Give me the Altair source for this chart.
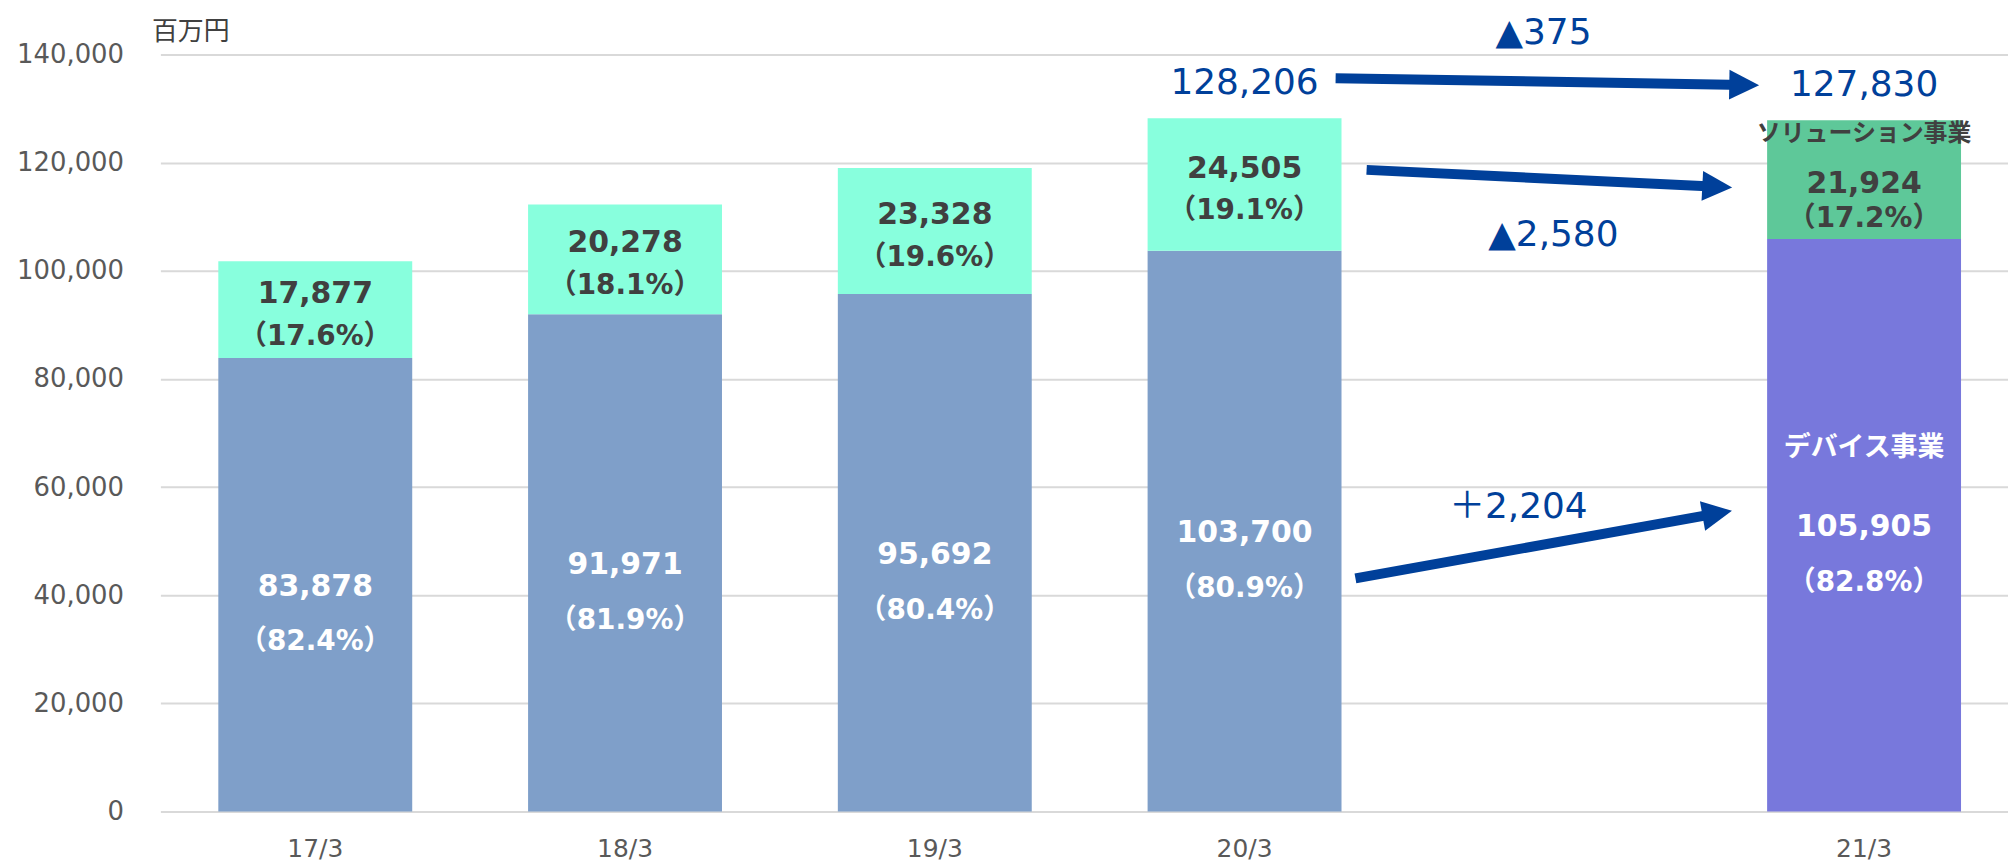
import altair as alt
import pandas as pd

# ---------------- data ----------------
years = ["17/3", "18/3", "19/3", "20/3", "21/3"]
device = [83878, 91971, 95692, 103700, 105905]
solution = [17877, 20278, 23328, 24505, 21924]
device_pct = ["82.4%", "81.9%", "80.4%", "80.9%", "82.8%"]
solution_pct = ["17.6%", "18.1%", "19.6%", "19.1%", "17.2%"]
x_domain = ["17/3", "18/3", "19/3", "20/3", " ", "21/3"]
y_ticks = [0, 20000, 40000, 60000, 80000, 100000, 120000, 140000]

total_years = ["20/3", "21/3"]
totals = [128206, 127830]

segment_names = ["ソリューション事業", "デバイス事業"]

delta_labels = ["▲375", "▲2,580", "＋2,204"]
delta_x = [4.465, 4.497, 4.384]          # position in band units
delta_y = [143900, 106700, 56400]

arrow_x1 = [3.794, 3.894, 3.858]
arrow_y1 = [135630, 118670, 43100]
arrow_x2 = [5.113, 5.026, 5.026]
arrow_y2 = [134380, 115560, 55130]
arrow_angle = [1, 3, 350]

# ---------------- styles ----------------
NUM_FONT = "DejaVu Sans, Noto Sans CJK JP"
JP_FONT = "Noto Sans CJK JP"
BLUE = "#00409A"
DARK = "#404040"
GREY = "#595959"
XRANGE = 1866

# ---------------- tables ----------------
bar_rows = []
for i, yr in enumerate(years):
    cur = yr == "21/3"
    bar_rows.append({"year": yr, "y0": 0, "y1": device[i],
                     "key": "dev_cur" if cur else "dev"})
    bar_rows.append({"year": yr, "y0": device[i], "y1": device[i] + solution[i],
                     "key": "sol_cur" if cur else "sol"})
bar_df = pd.DataFrame(bar_rows)

lab_df = pd.DataFrame({
    "year": years,
    "dev_mid": [d / 2 for d in device],
    "sol_mid": [d + s / 2 for d, s in zip(device, solution)],
    "dev_txt": [f"{d:,}" for d in device],
    "sol_txt": [f"{s:,}" for s in solution],
    "dev_pct": [f"（{p}）" for p in device_pct],
    "sol_pct": [f"（{p}）" for p in solution_pct],
    "total": [d + s for d, s in zip(device, solution)],
})

tot_df = pd.DataFrame({"year": total_years, "total": totals,
                       "txt": [f"{t:,}" for t in totals]})

arrow_df = pd.DataFrame({"x1": arrow_x1, "y1": arrow_y1, "x2": arrow_x2,
                         "y2": arrow_y2, "ang": arrow_angle})
delta_df = pd.DataFrame({"x": delta_x, "y": delta_y, "txt": delta_labels})

# ---------------- scales / encodings ----------------
yscale = alt.Scale(domain=[0, 140000], nice=False, zero=True)
xscale = alt.Scale(domain=x_domain, range=[0, XRANGE], paddingInner=0.374, paddingOuter=0.187)

X = alt.X("year:N", scale=xscale, sort=x_domain,
          axis=alt.Axis(title=None, labelAngle=0, domain=False, ticks=False, tickSize=0,
                        grid=False, labelFont=NUM_FONT, labelFontSize=25,
                        labelColor=GREY, labelPadding=25))

bars = alt.Chart(bar_df).mark_bar().encode(
    x=X,
    y=alt.Y("y0:Q", scale=yscale,
            axis=alt.Axis(values=y_ticks, format=",d", grid=True, gridColor="#D9D9D9",
                          gridWidth=2, domain=False, ticks=False, tickSize=0,
                          labelFont=NUM_FONT, labelFontSize=26, labelColor=GREY,
                          labelPadding=37, title="百万円", titleAngle=0,
                          titleAlign="left", titleBaseline="middle", titleX=-9,
                          titleY=-23, titleFont=JP_FONT, titleFontSize=26,
                          titleFontWeight="normal", titleColor=DARK)),
    y2="y1:Q",
    color=alt.Color("key:N", scale=alt.Scale(domain=["dev", "sol", "dev_cur", "sol_cur"],
                                             range=["#7F9FC9", "#88FFDD", "#7878DC", "#5EC899"]),
                    legend=None),
)

def txt(df, field, text, dy, size, color, weight="bold", filt=None, font=NUM_FONT):
    c = alt.Chart(df)
    if filt is not None:
        c = c.transform_filter(filt)
    return c.mark_text(font=font, fontSize=size, fontWeight=weight, color=color,
                       baseline="middle", align="center", dy=dy).encode(
        x=X, y=alt.Y(field, scale=yscale), text=text)

past = "datum.year != '21/3'"
cur = "datum.year == '21/3'"

dev_val = txt(lab_df, "dev_mid:Q", "dev_txt:N", 2, 30, "white")
dev_pct = txt(lab_df, "dev_mid:Q", "dev_pct:N", 58, 28, "white")
sol_val = txt(lab_df, "sol_mid:Q", "sol_txt:N", -16, 30, DARK, filt=past)
sol_pct = txt(lab_df, "sol_mid:Q", "sol_pct:N", 27, 28, DARK, filt=past)
sol_val_c = txt(lab_df, "sol_mid:Q", "sol_txt:N", 4, 30, DARK, filt=cur)
sol_pct_c = txt(lab_df, "sol_mid:Q", "sol_pct:N", 40, 28, DARK, filt=cur)

tot_txt = alt.Chart(tot_df).mark_text(font=NUM_FONT, fontSize=36, color=BLUE,
                                      baseline="middle", dy=-35).encode(
    x=X, y=alt.Y("total:Q", scale=yscale), text="txt:N")

seg_sol = alt.Chart(lab_df).transform_filter(cur).transform_calculate(
    name=f"'{segment_names[0]}'").mark_text(
    font=JP_FONT, fontSize=24, fontWeight="bold", color=DARK, baseline="middle", dy=14).encode(
    x=X, y=alt.Y("total:Q", scale=yscale), text="name:N")
seg_dev = alt.Chart(lab_df).transform_filter(cur).transform_calculate(
    name=f"'{segment_names[1]}'").mark_text(
    font=JP_FONT, fontSize=27, fontWeight="bold", color="white", baseline="middle", dy=-77).encode(
    x=X, y=alt.Y("dev_mid:Q", scale=yscale), text="name:N")

main = alt.layer(bars, dev_val, dev_pct, sol_val, sol_pct, sol_val_c, sol_pct_c,
                 tot_txt, seg_sol, seg_dev)

xq = alt.Scale(domain=[0, 6], range=[0, XRANGE], nice=False, zero=False)

shafts = alt.Chart(arrow_df).mark_rule(color=BLUE, strokeWidth=10).encode(
    x=alt.X("x1:Q", scale=xq, axis=None), x2="x2:Q",
    y=alt.Y("y1:Q", scale=yscale), y2="y2:Q")
heads = alt.Chart(arrow_df).mark_point(shape="M-1,-1L1,0L-1,1Z", filled=True, size=900,
                                       color=BLUE, opacity=1).encode(
    x=alt.X("x2:Q", scale=xq, axis=None), y=alt.Y("y2:Q", scale=yscale),
    angle=alt.Angle("ang:Q", scale=None))
deltas = alt.Chart(delta_df).mark_text(font=NUM_FONT, fontSize=36, color=BLUE,
                                       baseline="middle").encode(
    x=alt.X("x:Q", scale=xq, axis=None), y=alt.Y("y:Q", scale=yscale), text="txt:N")

annot = alt.layer(shafts, heads, deltas)

chart = alt.layer(main, annot).resolve_scale(x="independent").properties(
    width=1855, height=760,
    autosize=alt.AutoSizeParams(type="none"),
    padding={"left": 153, "top": 45, "right": 0, "bottom": 53},
    background="white",
).configure_view(stroke=None)

chart.save("out.html", embed_options={"renderer": "svg", "actions": False})
